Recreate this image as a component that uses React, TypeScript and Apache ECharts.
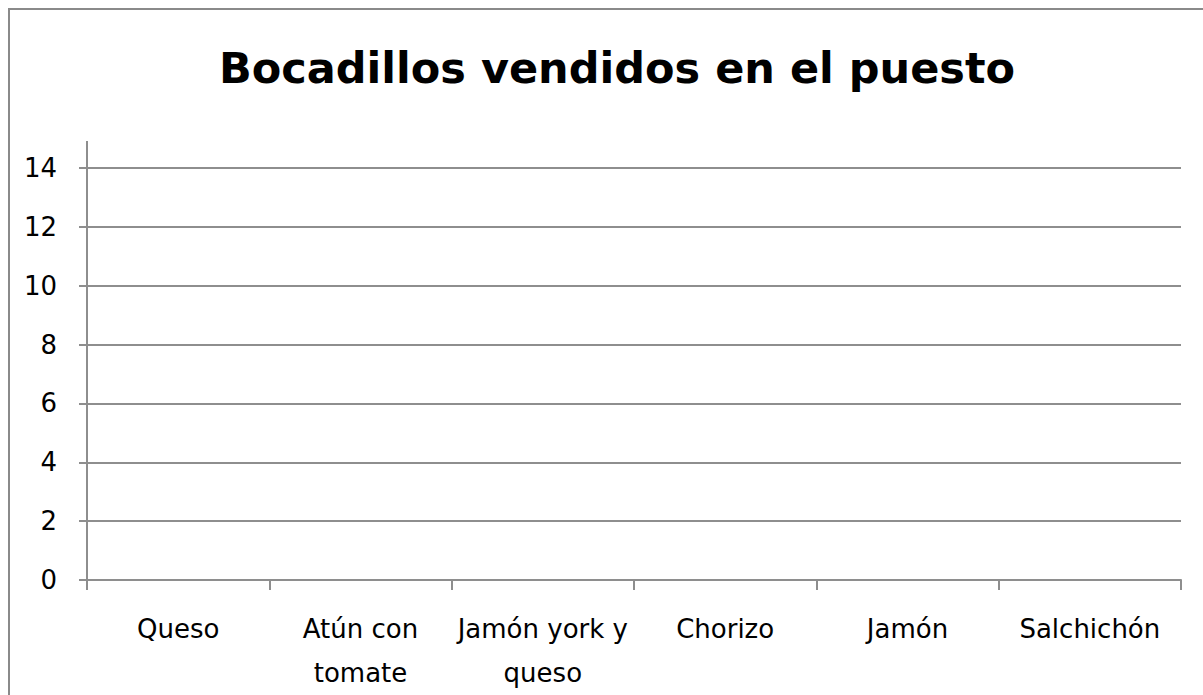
import React, { useEffect, useRef } from "react";
import * as echarts from "echarts";

const chartTitle = "Bocadillos vendidos en el puesto";
const categories = [
  "Queso",
  "Atún con\ntomate",
  "Jamón york y\nqueso",
  "Chorizo",
  "Jamón",
  "Salchichón",
];
const salesValues: (number | null)[] = [null, null, null, null, null, null];
const yMin = 0;
const yMax = 14;
const yStep = 2;

const FONT = "'DejaVu Sans', 'Noto Sans', sans-serif";
const GRAY = "#8e8e8e";

export default function App() {
  const ref = useRef<HTMLDivElement>(null);
  useEffect(() => {
    document.body.style.margin = "0";
    if (!ref.current) return;
    const chart = echarts.init(ref.current, undefined, { renderer: "svg" });
    chart.setOption({
      animation: false,
      backgroundColor: "#ffffff",
      title: {
        text: chartTitle,
        left: 612,
        textAlign: "center",
        top: 36,
        textStyle: {
          fontFamily: FONT,
          fontWeight: "bold",
          fontSize: 43,
          color: "#000000",
          lineHeight: 54,
        },
      },
      grid: { left: 87, right: 22, top: 168, bottom: 115, containLabel: false },
      xAxis: {
        type: "category",
        data: categories,
        boundaryGap: true,
        axisLine: { show: true, lineStyle: { color: GRAY, width: 2 } },
        axisTick: { show: true, length: 10, lineStyle: { color: GRAY, width: 2 } },
        axisLabel: {
          interval: 0,
          margin: 27,
          fontFamily: FONT,
          fontSize: 26,
          lineHeight: 44,
          color: "#000000",
        },
        splitLine: { show: false },
      },
      yAxis: {
        type: "value",
        min: yMin,
        max: yMax,
        interval: yStep,
        axisLine: { show: true, lineStyle: { color: GRAY, width: 2 } },
        axisTick: { show: true, length: 8, lineStyle: { color: GRAY, width: 2 } },
        axisLabel: {
          margin: 30,
          fontFamily: FONT,
          fontSize: 26,
          color: "#000000",
        },
        splitLine: { show: true, lineStyle: { color: GRAY, width: 2 } },
      },
      series: [
        {
          type: "bar",
          data: salesValues,
          itemStyle: { color: "#4f81bd" },
        },
      ],
      graphic: [
        {
          type: "rect",
          shape: { x: 9, y: 9, width: 1220, height: 720 },
          style: { fill: "none", stroke: "#8a8a8a", lineWidth: 2 },
          silent: true,
        },
        {
          type: "line",
          shape: { x1: 87, y1: 141, x2: 87, y2: 168 },
          style: { stroke: GRAY, lineWidth: 2 },
          silent: true,
        },
      ],
    });
    return () => chart.dispose();
  }, []);
  return <div ref={ref} style={{ width: 1203, height: 695 }} />;
}
